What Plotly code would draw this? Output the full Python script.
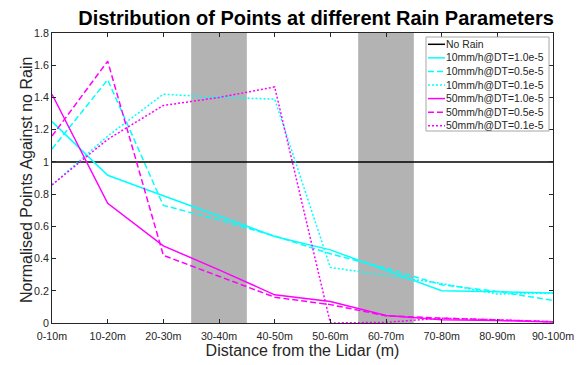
import plotly.graph_objects as go

categories = ["0-10m", "10-20m", "20-30m", "30-40m", "40-50m",
              "50-60m", "60-70m", "70-80m", "80-90m", "90-100m"]

no_rain = [1, 1, 1, 1, 1, 1, 1, 1, 1, 1]
r10_dt10 = [1.25, 0.917, 0.79, 0.665, 0.537, 0.454, 0.327, 0.20, 0.194, 0.186]
r10_dt05 = [1.08, 1.51, 0.73, 0.64, 0.54, 0.43, 0.34, 0.237, 0.196, 0.14]
r10_dt01 = [0.857, 1.16, 1.42, 1.40, 1.39, 0.345, 0.295, 0.245, 0.18, 0.186]
r50_dt10 = [1.42, 0.743, 0.479, 0.33, 0.175, 0.134, 0.047, 0.02, 0.015, 0.006]
r50_dt05 = [1.16, 1.625, 0.42, 0.29, 0.16, 0.114, 0.045, 0.03, 0.02, 0.008]
r50_dt01 = [0.857, 1.14, 1.35, 1.40, 1.465, 0.0, 0.004, 0.03, 0.02, 0.008]

highlight_bands = [(2.5, 3.5), (5.5, 6.5)]

xs = list(range(len(categories)))
font_family = "Arial, Liberation Sans, sans-serif"

W, H = 587, 365
# target plot area in screen pixels
L, R, T, B = 52, 553, 33, 323
OFF = 8  # page body margin offsets the figure by 8px

DASH = "6px,3px"
DOT = "2px,2px"


def px(x):
    return (x - L) / (R - L)


def py(y):
    return (B - y) / (B - T)


fig = go.Figure()
series = [
    ("No Rain", no_rain, "#000000", "solid"),
    ("10mm/h@DT=1.0e-5", r10_dt10, "#00FFFF", "solid"),
    ("10mm/h@DT=0.5e-5", r10_dt05, "#00FFFF", DASH),
    ("10mm/h@DT=0.1e-5", r10_dt01, "#00FFFF", DOT),
    ("50mm/h@DT=1.0e-5", r50_dt10, "#FF00FF", "solid"),
    ("50mm/h@DT=0.5e-5", r50_dt05, "#FF00FF", DASH),
    ("50mm/h@DT=0.1e-5", r50_dt01, "#FF00FF", DOT),
]
for name, vals, color, dash in series:
    fig.add_trace(go.Scatter(x=xs, y=vals, mode="lines", name=name,
                             showlegend=False,
                             line=dict(color=color, width=1.5, dash=dash)))

for a, b in highlight_bands:
    fig.add_shape(type="rect", xref="x", yref="y", x0=a, x1=b, y0=0, y1=1.8,
                  fillcolor="#b3b3b3", line_width=0, layer="below")

# legend box drawn by hand (MATLAB-like compact legend)
fig.add_shape(type="rect", xref="paper", yref="paper",
              x0=px(426), x1=px(549), y0=py(131), y1=py(37),
              fillcolor="white", line=dict(color="#a6a6a6", width=1), layer="above")
for i, (name, vals, color, dash) in enumerate(series):
    yy = 44.3 + i * 13.57
    fig.add_shape(type="line", xref="paper", yref="paper",
                  x0=px(428), x1=px(445), y0=py(yy), y1=py(yy),
                  line=dict(color=color, width=1.5, dash=dash), layer="above")
    fig.add_annotation(xref="paper", yref="paper", x=px(444), y=py(yy),
                       xanchor="left", yanchor="middle", showarrow=False,
                       text=name, font=dict(size=10.4, color="#262626"))

# y-axis title as annotation for exact placement
fig.add_annotation(xref="paper", yref="paper", x=px(26), y=py(180),
                   xanchor="center", yanchor="middle", showarrow=False,
                   textangle=-90, text="Normalised Points Against no Rain",
                   font=dict(size=16, color="#262626"))

fig.update_layout(
    width=W, height=H,
    margin=dict(l=L - OFF, r=W - R + OFF, t=T - OFF, b=H - B + OFF, autoexpand=False),
    paper_bgcolor="white", plot_bgcolor="white",
    font=dict(family=font_family, color="#262626"),
    title=dict(text="<b>Distribution of Points at different Rain Parameters</b>",
               x=(316 - OFF) / W, xanchor="center", y=1 - (18 - OFF) / H, yanchor="middle",
               font=dict(size=20, color="#000000")),
    showlegend=False,
)
fig.update_xaxes(
    tickmode="array", tickvals=xs, ticktext=categories,
    range=[0, 9], showgrid=False, zeroline=False, automargin=False,
    showline=True, linecolor="#262626", linewidth=1, mirror="ticks",
    ticks="inside", ticklen=4, tickcolor="#262626",
    tickfont=dict(size=10.7), ticklabelstandoff=3,
    title=dict(text="Distance from the Lidar (m)", font=dict(size=16), standoff=3),
)
fig.update_yaxes(
    range=[0, 1.8], tickmode="array",
    tickvals=[0, 0.2, 0.4, 0.6, 0.8, 1, 1.2, 1.4, 1.6, 1.8],
    ticktext=["0", "0.2", "0.4", "0.6", "0.8", "1", "1.2", "1.4", "1.6", "1.8"],
    showgrid=False, zeroline=False, automargin=False,
    showline=True, linecolor="#262626", linewidth=1, mirror="ticks",
    ticks="inside", ticklen=4, tickcolor="#262626",
    tickfont=dict(size=10.7),
)

fig.write_html("out.html")
